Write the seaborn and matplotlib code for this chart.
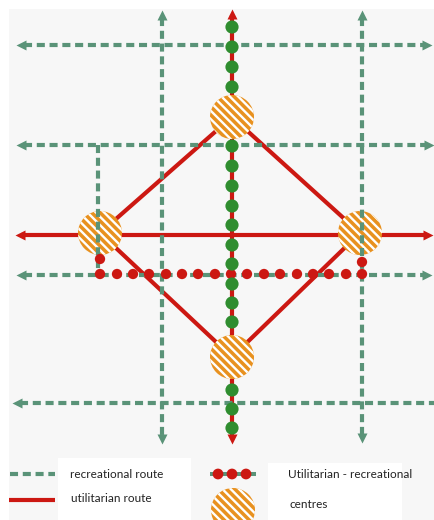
import matplotlib
matplotlib.use("Agg")
import matplotlib.pyplot as plt
import seaborn as sns
import pandas as pd
from matplotlib.patches import Circle, Rectangle

sns.set_theme(style="white")
plt.rcParams['font.family'] = ['Lato', 'DejaVu Sans']
plt.rcParams['lines.scale_dashes'] = False
plt.rcParams['hatch.linewidth'] = 1.7

# ---- data (pixel-space layout of the diagram) ----
# recreational (green dashed) routes: (x0, y0, x1, y1, arrow_start, arrow_end)
rec_x0 = [16, 16, 16, 12, 162, 362, 98]
rec_y0 = [45, 145, 275, 403, 10, 10, 145]
rec_x1 = [432, 434, 432, 434, 162, 362, 98]
rec_y1 = [45, 145, 275, 403, 444, 443, 275]
rec_arrow0 = [True, True, True, True, True, True, False]
rec_arrow1 = [True, True, True, False, True, True, False]

# utilitarian (red) routes
util_x0 = [232, 15, 100, 100, 232, 360]
util_y0 = [9, 235, 233, 233, 117, 233]
util_x1 = [232, 433, 232, 232, 360, 232]
util_y1 = [444, 235, 117, 357, 233, 357]
util_arrow = [True, True, False, False, False, False]

# utilitarian-recreational dots
green_dot_y = [27, 47, 67, 87, 146, 166, 186, 206, 225, 245, 264, 284, 303, 322, 390, 409, 428]
red_dot_x = [100, 117, 133, 149, 166, 182, 198, 215, 231, 247, 264, 280, 297, 313, 329, 346, 362, 100, 362]
red_dot_y = [274] * 17 + [259, 262]

# centres
centre_x = [232, 100, 360, 232]
centre_y = [117, 233, 233, 357]

legend_labels = ["recreational route", "utilitarian route", "Utilitarian - recreational", "centres"]

GREEN = "#5a9378"
RED = "#cc1812"
ORANGE = "#e8911f"
DOT_GREEN = "#2f8d2f"
HATCH = "\\\\\\\\"

fig = plt.figure(figsize=(4.34, 5.2), dpi=100)
fig.patch.set_facecolor("white")
ax = fig.add_axes([0, 0, 1, 1])

ax.add_patch(Rectangle((9, 9), 430, 520, facecolor="#f7f7f7", edgecolor="none", zorder=0))
ax.add_patch(Rectangle((58, 458), 133, 70, facecolor="white", edgecolor="none", zorder=0.5))
ax.add_patch(Rectangle((268, 463), 134, 70, facecolor="white", edgecolor="none", zorder=0.5))

def arrow(x, y, dx, dy, color, z, size=7.5):
    if dx > 0:
        m, ox, oy = ">", -5, 0
    elif dx < 0:
        m, ox, oy = "<", 5, 0
    elif dy > 0:
        m, ox, oy = "v", 0, -5
    else:
        m, ox, oy = "^", 0, 5
    ax.plot([x + ox], [y + oy], marker=m, ms=size, color=color, mec="none", zorder=z, clip_on=True)

# red utilitarian routes
for x0, y0, x1, y1, a in zip(util_x0, util_y0, util_x1, util_y1, util_arrow):
    ex0, ey0, ex1, ey1 = x0, y0, x1, y1
    if a:
        if x0 == x1:
            ey0, ey1 = y0 + 6, y1 - 6
        else:
            ex0, ex1 = x0 + 6, x1 - 6
    ax.plot([ex0, ex1], [ey0, ey1], color=RED, lw=3.0, solid_capstyle="butt", zorder=1)
    if a:
        arrow(x0, y0, x0 - x1, y0 - y1, RED, 1.1)
        arrow(x1, y1, x1 - x0, y1 - y0, RED, 1.1)

# centres
for cx, cy in zip(centre_x, centre_y):
    ax.add_patch(Circle((cx, cy), 22, facecolor=ORANGE, edgecolor="white", lw=0,
                        hatch=HATCH, zorder=2))

# green recreational routes
for x0, y0, x1, y1, a0, a1 in zip(rec_x0, rec_y0, rec_x1, rec_y1, rec_arrow0, rec_arrow1):
    ex0, ey0, ex1, ey1 = x0, y0, x1, y1
    if x0 == x1:
        if a0: ey0 = y0 + 8
        if a1: ey1 = y1 - 8
    else:
        if a0: ex0 = x0 + 8
        if a1: ex1 = x1 - 8
    ax.plot([ex0, ex1], [ey0, ey1], color=GREEN, lw=3.0, dashes=(5.8, 3.4),
            solid_capstyle="butt", dash_capstyle="butt", zorder=3)
    if a0:
        arrow(x0, y0, x0 - x1, y0 - y1, GREEN, 3.1)
    if a1:
        arrow(x1, y1, x1 - x0, y1 - y0, GREEN, 3.1)

# dots
red_df = pd.DataFrame({"x": red_dot_x, "y": red_dot_y})
sns.scatterplot(data=red_df, x="x", y="y", ax=ax, color=RED, s=55, edgecolor="none", zorder=4, legend=False)
green_df = pd.DataFrame({"x": [232] * len(green_dot_y), "y": green_dot_y})
sns.scatterplot(data=green_df, x="x", y="y", ax=ax, color=DOT_GREEN, s=90, edgecolor="none", zorder=5, legend=False)

# legend
ax.plot([10, 55], [474, 474], color=GREEN, lw=3.0, dashes=(5.8, 3.4), zorder=3)
ax.plot([9, 55], [500, 500], color=RED, lw=3.0, solid_capstyle="butt", zorder=3)
ax.plot([210, 256], [474, 474], color=GREEN, lw=2.9, zorder=3, solid_capstyle="butt")
leg_df = pd.DataFrame({"x": [218, 232, 246], "y": [474, 474, 474]})
sns.scatterplot(data=leg_df, x="x", y="y", ax=ax, color=RED, s=60, edgecolor="none", zorder=4, legend=False)
ax.add_patch(Circle((233, 510), 22, facecolor=ORANGE, edgecolor="white", lw=0, hatch=HATCH, zorder=2))

tx = [70, 71, 288, 290]
ty = [475, 498, 474, 504]
for t, x, y in zip(legend_labels, tx, ty):
    ax.text(x, y, t, fontsize=8.5, color="#222222", va="center", ha="left", zorder=6)

ax.set_xlim(0, 434)
ax.set_ylim(520, 0)
ax.axis("off")

fig.savefig("out.png", dpi=100, facecolor="white")
